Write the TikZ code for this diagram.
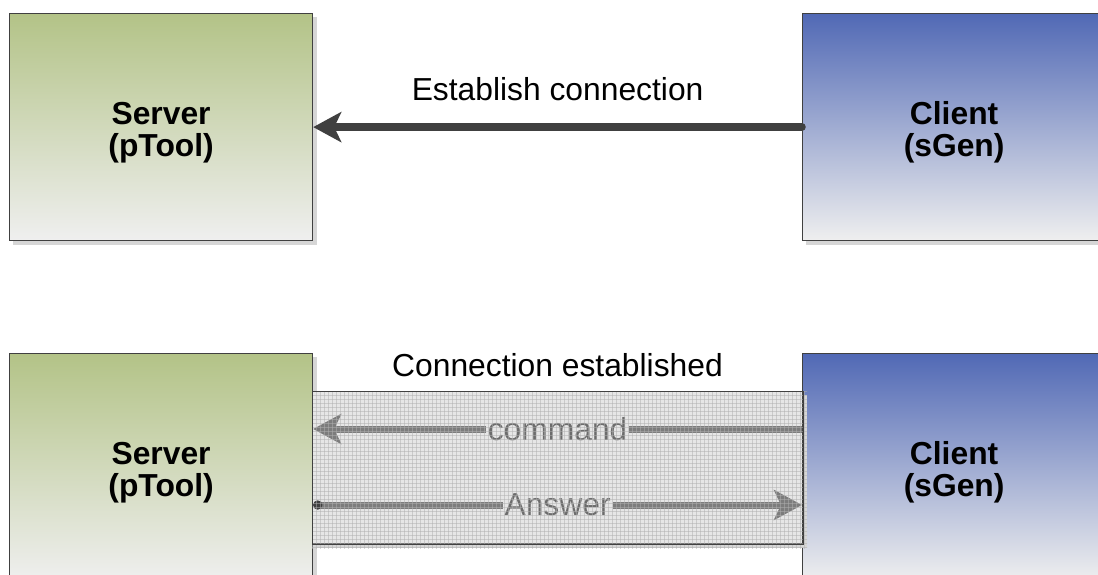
\documentclass[tikz,border=0pt]{standalone}
\usepackage{fontspec}
\setmainfont{Liberation Sans}
\usetikzlibrary{arrows.meta,calc,backgrounds}
\definecolor{srvtop}{HTML}{B3C387}
\definecolor{clitop}{HTML}{5169B5}
\definecolor{boxbot}{HTML}{EFEFEF}
\definecolor{edge}{HTML}{404040}
\definecolor{linkfill}{HTML}{E6E6E6}
\definecolor{linkink}{HTML}{7C7C7C}
\definecolor{linktext}{HTML}{6C6C6C}
\definecolor{shadowgray}{HTML}{D6D6D6}
\definecolor{gridink}{HTML}{B0B0B0}
\tikzset{bigtip/.tip={Stealth[length=28pt, width=30pt, inset=7pt]}}
\begin{document}
\begin{tikzpicture}[x=1pt,y=-1pt,
  txt/.style={font=\fontsize{31.8}{36}\selectfont, inner sep=1pt},
  box/.style={draw=edge, line width=1.2pt, minimum width=303pt, minimum height=227pt,
    anchor=north west, align=center, inner sep=0pt, text height=66pt,
    font=\bfseries\fontsize{31.8}{32.5}\selectfont},
  srvbox/.style={box, top color=srvtop, bottom color=boxbot},
  clibox/.style={box, top color=clitop, bottom color=boxbot},
  boxshadow/.style={fill=shadowgray},
  linkbox/.style={draw=edge, line width=1pt, fill=linkfill, anchor=north west,
    minimum width=490pt, minimum height=152pt, inner sep=0pt},
  darkflow/.style={draw=edge, line width=7.5pt, line cap=round},
  greyflow/.style={draw=linkink, line width=7pt},
  flowlabel/.style={txt, fill=linkfill, text=linktext, inner sep=2pt}
]
\useasboundingbox (0,0) rectangle (1098,574);
\clip (0,0) rectangle (1098,574);

% upper pair: connection request
\node[srvbox] (s1) at (9,13) {Server\\(pTool)};
\node[clibox] (c1) at (802,13) {Client\\(sGen)};
% lower pair: open connection
\node[srvbox] (s2) at (9,353) {Server\\(pTool)};
\node[clibox] (c2) at (802,353) {Client\\(sGen)};

\begin{scope}[on background layer]
  \foreach \b in {s1,c1,s2,c2}
    \fill[boxshadow] ($(\b.north west)+(4,4)$) rectangle ($(\b.south east)+(4,4)$);
\end{scope}

% request arrow
\draw[darkflow, -{bigtip}] (c1.west) -- (s1.east);
\node[txt] (req) at ($(s1.east)!.5!(c1.west)+(0,-38)$) {Establish connection};

% channel between the lower pair
\node[linkbox] (link) at (312,391) {};
\fill[shadowgray] (link.south west) ++(4,0) rectangle ($(link.south east)+(4,4)$);
\fill[shadowgray] (link.north east) ++(0,4) rectangle ($(link.south east)+(4,4)$);
\node[txt] (est) at ($(link.north)+(0,-26)$) {Connection established};

\coordinate (cmd) at (0,429);
\coordinate (ans) at (0,505);
\draw[greyflow, -{bigtip}] (c2.west |- cmd) -- (s2.east |- cmd)
  node[flowlabel, midway] (cmdlbl) {command};
\draw[greyflow, {Circle[length=9pt, color=edge]}-{bigtip}] (s2.east |- ans) -- (c2.west |- ans)
  node[flowlabel, midway] (anslbl) {Answer};

% fine mesh laid over the channel
\begin{scope}
  \clip (link.north west) rectangle ($(link.south east)+(4,4)$);
  \foreach \x in {0,4,...,500}
    \draw[gridink, opacity=.5, line width=.9pt] ($(link.north west)+(\x,0)$) -- ++(0,160);
  \foreach \y in {0,4,...,160}
    \draw[gridink, opacity=.5, line width=.9pt] ($(link.north west)+(0,\y)$) -- ++(500,0);
\end{scope}
\draw[edge, line width=1pt] (link.north west) rectangle (link.south east);
\end{tikzpicture}
\end{document}
